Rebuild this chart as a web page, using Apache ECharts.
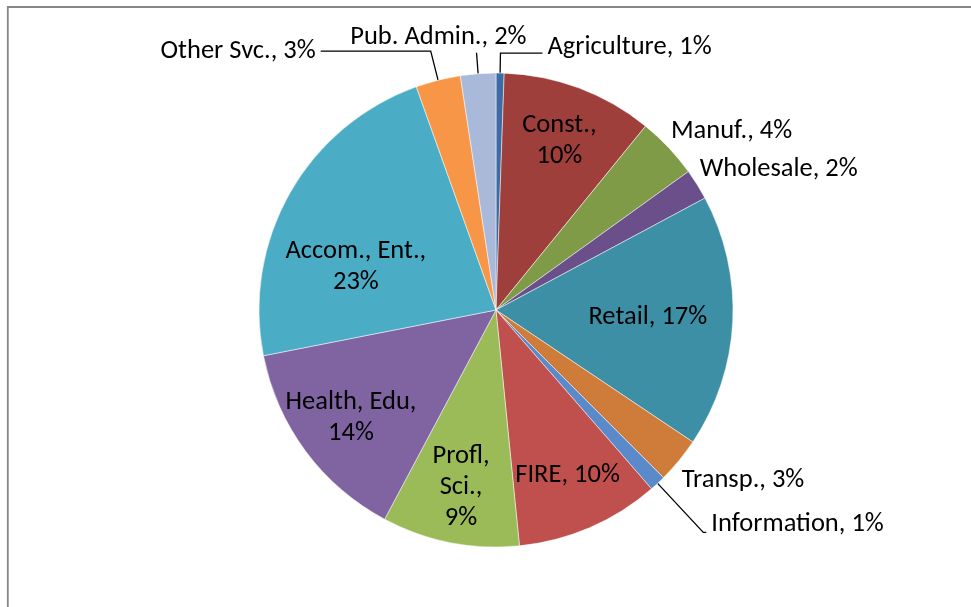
<!DOCTYPE html>
<html>
<head>
<meta charset="utf-8">
<script src="https://cdn.jsdelivr.net/npm/echarts@6/dist/echarts.min.js"></script>
<style>
  html, body { margin: 0; padding: 0; background: #fff; }
  #chart { width: 971px; height: 607px; }
</style>
</head>
<body>
<div id="chart"></div>
<script>
// Employment share by industry
const categories = ['Agriculture', 'Const.', 'Manuf.', 'Wholesale', 'Retail', 'Transp.', 'Information',
  'FIRE', 'Profl, Sci.', 'Health, Edu', 'Accom., Ent.', 'Other Svc.', 'Pub. Admin.'];
const shares = [0.55, 10.3, 4.2, 2.1, 17.2, 3.1, 1.1, 9.8, 9.35, 14.1, 22.6, 3.05, 2.4];
const sliceColors = ['#3E6BA3', '#9E3F3C', '#7F9B48', '#6A4F8B', '#3D8FA6', '#CF7C3A', '#5A8ACA',
  '#C0504D', '#9BBB59', '#8064A2', '#4BACC6', '#F79646', '#A9B9DA'];

const FONT = 'Carlito, "Open Sans", sans-serif';
const FONT_SIZE = 26.5;
const LINE_H = 31;
const CENTER = [496, 310];
const RADIUS = 237;

const pctText = p => Math.round(p.percent) + '%';
const labelText = p => p.name + ', ' + pctText(p);
// text sitting a little above the end of its leader line
const raisedText = p => '{t|' + labelText(p) + '}\n{g| }';

// how inside labels wrap: 'inline' = one line, 'stack' = name over value, 'words' = each word on its own line
const wrapMode = {
  'Const.': 'stack', 'Retail': 'inline', 'FIRE': 'inline',
  'Profl, Sci.': 'words', 'Health, Edu': 'stack', 'Accom., Ent.': 'stack'
};
function insideText(p) {
  const mode = wrapMode[p.name];
  if (mode === 'stack') return p.name + ',\n' + pctText(p);
  if (mode === 'words') return p.name.split(', ').join(',\n') + ',\n' + pctText(p);
  return labelText(p);
}

// outside labels with their leader-line geometry; gap lifts the text above the line end
const outsideStyle = {
  'Agriculture': { line: { show: true, length: 20, length2: 42 }, gap: 12 },
  'Manuf.':      { line: { show: false, length: 24, length2: 0 }, label: { distanceToLabelLine: -15 } },
  'Wholesale':   { line: { show: false, length: 29, length2: 0 }, label: { distanceToLabelLine: -22 } },
  'Transp.':     { line: { show: false, length: 32, length2: 0 }, label: { distanceToLabelLine: -22 } },
  'Information': { line: { show: true, length: 67, length2: 3 }, gap: 16 },
  'Other Svc.':  { line: { show: true, length: 30, length2: 110 } },
  'Pub. Admin.': { line: { show: true, length: 21, length2: 0 }, label: { distanceToLabelLine: -50 }, gap: 30 }
};
// inside labels grouped by how far out from the centre they sit
const insideOuterRing = ['Const.', 'FIRE', 'Profl, Sci.', 'Health, Edu'];
const insideMidRing = ['Retail', 'Accom., Ent.'];

const baseLabel = { fontFamily: FONT, fontSize: FONT_SIZE, color: '#000', lineHeight: LINE_H };

const mainData = categories.map((name, i) => {
  const o = outsideStyle[name];
  let label = { show: false };
  if (o) {
    label = Object.assign({ show: true, position: 'outside', formatter: labelText }, baseLabel, o.label || {});
    if (o.gap) {
      label.formatter = raisedText;
      label.rich = {
        t: { fontFamily: FONT, fontSize: FONT_SIZE, color: '#000', lineHeight: LINE_H },
        g: { fontSize: 1, lineHeight: o.gap }
      };
    }
  }
  return {
    name,
    value: shares[i],
    itemStyle: { color: sliceColors[i] },
    label,
    labelLine: o ? Object.assign({ lineStyle: { color: '#000', width: 1.3 } }, o.line) : { show: false }
  };
});

function ringData(names) {
  return categories.map((name, i) => ({
    name,
    value: shares[i],
    itemStyle: { color: 'rgba(0,0,0,0)' },
    label: names.indexOf(name) >= 0
      ? Object.assign({ show: true, position: 'inside', formatter: insideText, align: 'center' }, baseLabel)
      : { show: false },
    labelLine: { show: false }
  }));
}

const chart = echarts.init(document.getElementById('chart'), null, { renderer: 'canvas' });
chart.setOption({
  animation: false,
  backgroundColor: '#fff',
  graphic: [{
    type: 'rect', silent: true, z: 100,
    shape: { x: 7.8, y: 7, width: 1200, height: 900 },
    style: { fill: 'none', stroke: '#878787', lineWidth: 1.8 }
  }],
  series: [
    {
      type: 'pie', center: CENTER, radius: RADIUS, startAngle: 90, clockwise: true,
      avoidLabelOverlap: false, silent: true,
      itemStyle: { borderColor: '#fff', borderWidth: 0.5 },
      data: mainData
    },
    {
      type: 'pie', center: CENTER, radius: [118, RADIUS], startAngle: 90, clockwise: true,
      avoidLabelOverlap: false, silent: true, z: 3,
      labelLayout: { hideOverlap: false },
      data: ringData(insideOuterRing)
    },
    {
      type: 'pie', center: CENTER, radius: [61, RADIUS], startAngle: 90, clockwise: true,
      avoidLabelOverlap: false, silent: true, z: 3,
      data: ringData(insideMidRing),
      // the large left-hand slice carries its label lower than its mid-angle
      labelLayout: p => (p.dataIndex === 10 ? { dx: -8, dy: 32 } : {})
    }
  ]
});
</script>
</body>
</html>
